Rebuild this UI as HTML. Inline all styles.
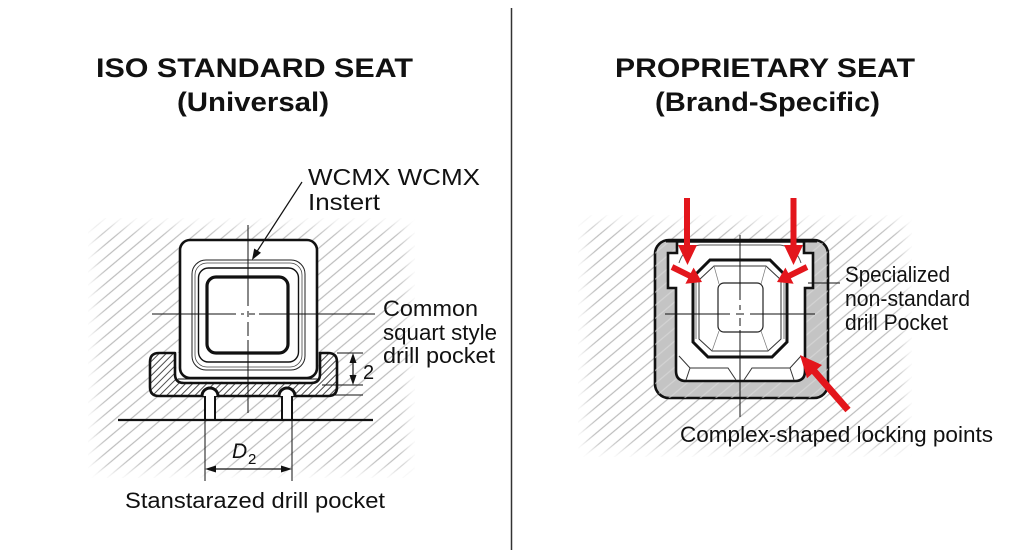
<!DOCTYPE html>
<html><head><meta charset="utf-8"><style>
html,body{margin:0;padding:0;background:#fff;}
svg{display:block;}
text{font-family:"Liberation Sans",Arial,sans-serif;fill:#111;}
</style></head><body>
<svg width="1024" height="559" viewBox="0 0 1024 559" xmlns="http://www.w3.org/2000/svg">
<defs>
  <pattern id="hatch" patternUnits="userSpaceOnUse" width="10" height="10" patternTransform="rotate(-40)">
    <line x1="0" y1="5" x2="10" y2="5" stroke="#bcbcbc" stroke-width="1.2"/>
  </pattern>
  <pattern id="hatchW" patternUnits="userSpaceOnUse" width="10" height="10" patternTransform="rotate(-40)">
    <line x1="0" y1="5" x2="10" y2="5" stroke="#dedede" stroke-width="1.2"/>
  </pattern>
  <pattern id="dense" patternUnits="userSpaceOnUse" width="5" height="5" patternTransform="rotate(-45)">
    <line x1="0" y1="2.5" x2="5" y2="2.5" stroke="#3a3a3a" stroke-width="0.9"/>
  </pattern>
  <filter id="feather" x="-10%" y="-10%" width="120%" height="120%">
    <feGaussianBlur stdDeviation="6"/>
  </filter>
  <mask id="mL" maskUnits="userSpaceOnUse" x="0" y="0" width="1024" height="559">
    <rect x="96" y="226" width="311" height="244" fill="#fff" filter="url(#feather)"/>
  </mask>
  <mask id="mR" maskUnits="userSpaceOnUse" x="0" y="0" width="1024" height="559">
    <rect x="586" y="223" width="318" height="226" fill="#fff" filter="url(#feather)"/>
  </mask>
</defs>
<rect width="1024" height="559" fill="#fff"/>

<!-- divider -->
<line x1="511.5" y1="8" x2="511.5" y2="550" stroke="#333" stroke-width="1.5"/>

<!-- titles -->
<text x="96" y="77" font-size="27" font-weight="bold" textLength="317" lengthAdjust="spacingAndGlyphs">ISO STANDARD SEAT</text>
<text x="177" y="111" font-size="27" font-weight="bold" textLength="152" lengthAdjust="spacingAndGlyphs">(Universal)</text>
<text x="615" y="77" font-size="27" font-weight="bold" textLength="300" lengthAdjust="spacingAndGlyphs">PROPRIETARY SEAT</text>
<text x="655" y="111" font-size="27" font-weight="bold" textLength="225" lengthAdjust="spacingAndGlyphs">(Brand-Specific)</text>

<!-- ============ LEFT FIGURE ============ -->
<rect x="88" y="218" width="327" height="260" fill="url(#hatch)" mask="url(#mL)"/>

<!-- pocket -->
<path d="M159 353 L175 353 L175 374 Q175 383 184 383 L311 383 Q320 383 320 374 L320 353 L328 353 Q337 353 337 362 L337 387 Q337 396 328 396 L159 396 Q150 396 150 387 L150 362 Q150 353 159 353 Z" fill="#fff" stroke="none"/>
<path d="M159 353 L175 353 L175 374 Q175 383 184 383 L311 383 Q320 383 320 374 L320 353 L328 353 Q337 353 337 362 L337 387 Q337 396 328 396 L159 396 Q150 396 150 387 L150 362 Q150 353 159 353 Z" fill="url(#dense)" stroke="#111" stroke-width="2.6" stroke-linejoin="round"/>
<!-- cavity white -->
<path d="M176.5 353 L318.5 353 L318.5 374 Q318.5 381.5 311 381.5 L184 381.5 Q176.5 381.5 176.5 374 Z" fill="#fff"/>
<line x1="178" y1="379" x2="318" y2="379" stroke="#111" stroke-width="1"/>

<!-- pins -->
<rect x="205" y="396" width="10" height="24" fill="#fff"/>
<rect x="282" y="396" width="10" height="24" fill="#fff"/>
<line x1="205" y1="392" x2="205" y2="420" stroke="#111" stroke-width="2"/>
<line x1="215" y1="392" x2="215" y2="420" stroke="#111" stroke-width="2"/>
<line x1="282" y1="392" x2="282" y2="420" stroke="#111" stroke-width="2"/>
<line x1="292" y1="392" x2="292" y2="420" stroke="#111" stroke-width="2"/>
<path d="M202 396 A8 8 0 0 1 218 396" fill="#fff" stroke="#111" stroke-width="3"/>
<path d="M279 396 A8 8 0 0 1 295 396" fill="#fff" stroke="#111" stroke-width="3"/>

<!-- base line -->
<line x1="118" y1="420" x2="373" y2="420" stroke="#111" stroke-width="2.2"/>

<!-- insert -->
<rect x="180" y="240" width="137" height="138" rx="10" fill="#fff" stroke="#111" stroke-width="2.6"/>
<rect x="192" y="260" width="113" height="110" rx="14" fill="none" stroke="#222" stroke-width="1"/>
<rect x="195" y="263" width="107" height="104" rx="12" fill="none" stroke="#444" stroke-width="0.8"/>
<rect x="198.5" y="268" width="100" height="94" rx="10" fill="none" stroke="#111" stroke-width="1.4"/>
<rect x="207" y="277" width="81" height="76" rx="9" fill="#fff" stroke="#111" stroke-width="3.2"/>

<!-- centerlines left -->
<line x1="248" y1="225" x2="248" y2="306" stroke="#111" stroke-width="1"/>
<line x1="248" y1="311" x2="248" y2="317" stroke="#111" stroke-width="1"/>
<line x1="248" y1="322" x2="248" y2="336" stroke="#111" stroke-width="1"/>
<line x1="248" y1="340" x2="248" y2="413" stroke="#111" stroke-width="1"/>
<line x1="152" y1="314" x2="236" y2="314" stroke="#111" stroke-width="1"/>
<line x1="241" y1="314" x2="244" y2="314" stroke="#111" stroke-width="1"/>
<line x1="249" y1="314" x2="255" y2="314" stroke="#111" stroke-width="1"/>
<line x1="259" y1="314" x2="375" y2="314" stroke="#111" stroke-width="1"/>

<!-- leader arrow -->
<line x1="302" y1="182" x2="256" y2="253" stroke="#111" stroke-width="1.2"/>
<polygon points="252,260 254.2,248.5 261,252.8" fill="#111"/>

<!-- dimension 2 -->
<line x1="337" y1="353" x2="363" y2="353" stroke="#111" stroke-width="1"/>
<line x1="322" y1="385" x2="363" y2="385" stroke="#111" stroke-width="1"/>
<line x1="330" y1="395" x2="363" y2="395" stroke="#111" stroke-width="1"/>
<line x1="353" y1="360" x2="353" y2="378" stroke="#111" stroke-width="1.2"/>
<polygon points="353,353 349.5,363 356.5,363" fill="#111"/>
<polygon points="353,385 349.5,375 356.5,375" fill="#111"/>
<text x="363" y="379" font-size="20">2</text>

<!-- dimension D2 -->
<line x1="205" y1="420" x2="205" y2="481" stroke="#111" stroke-width="1"/>
<line x1="292" y1="420" x2="292" y2="481" stroke="#111" stroke-width="1"/>
<line x1="213" y1="469" x2="284" y2="469" stroke="#111" stroke-width="1.2"/>
<polygon points="205,469 216,465.5 216,472.5" fill="#111"/>
<polygon points="292,469 281,465.5 281,472.5" fill="#111"/>
<text x="232" y="458" font-size="21" font-style="italic">D</text>
<text x="248" y="464" font-size="15">2</text>

<!-- left labels -->
<text x="308" y="185" font-size="23" textLength="172" lengthAdjust="spacingAndGlyphs">WCMX WCMX</text>
<text x="308" y="210" font-size="23" textLength="72" lengthAdjust="spacingAndGlyphs">Instert</text>
<text x="383" y="316" font-size="22" textLength="95" lengthAdjust="spacingAndGlyphs">Common</text>
<text x="383" y="340" font-size="22" textLength="114" lengthAdjust="spacingAndGlyphs">squart style</text>
<text x="383" y="363" font-size="22" textLength="112" lengthAdjust="spacingAndGlyphs">drill pocket</text>
<text x="125" y="508" font-size="22" textLength="260" lengthAdjust="spacingAndGlyphs">Stanstarazed drill pocket</text>

<!-- ============ RIGHT FIGURE ============ -->
<rect x="578" y="215" width="334" height="242" fill="url(#hatch)" mask="url(#mR)"/>

<!-- outer gray body -->
<rect x="655" y="240" width="173" height="158" rx="14" fill="#c4c4c4" stroke="#111" stroke-width="2.6"/>
<rect x="655" y="240" width="173" height="158" rx="14" fill="url(#hatchW)" opacity="0.6"/>
<!-- cavity -->
<path d="M677 241.5 L677 253 L668 253 L668 288 L676 288 L676 371 Q676 381 686 381 L795 381 Q805 381 805 371 L805 288 L813 288 L813 253 L804 253 L804 241.5 Z" fill="#fff" stroke="#111" stroke-width="2.6" stroke-linejoin="miter"/>
<line x1="666" y1="241" x2="817" y2="241" stroke="#111" stroke-width="3"/>

<!-- insert thin outline -->
<path d="M679 263 Q684 247 700 245 L780 245 Q796 247 801 263" fill="none" stroke="#555" stroke-width="1"/>
<path d="M679 356 L690 368 L728 368 L736 380" fill="none" stroke="#333" stroke-width="1"/>
<path d="M690 368 L686 380" fill="none" stroke="#333" stroke-width="1"/>
<path d="M801 356 L790 368 L752 368 L744 380" fill="none" stroke="#333" stroke-width="1"/>
<path d="M790 368 L794 380" fill="none" stroke="#333" stroke-width="1"/>

<!-- octagon insert -->
<polygon points="710,260 770,260 787,277 787,342 772,357 708,357 693,342 693,277" fill="#fff" stroke="#111" stroke-width="3"/>
<polygon points="714,266 766,266 781,280 781,339 768,351 712,351 699,339 699,280" fill="none" stroke="#333" stroke-width="1"/>
<line x1="696" y1="282" x2="696" y2="339" stroke="#555" stroke-width="0.8"/>
<line x1="784" y1="282" x2="784" y2="339" stroke="#555" stroke-width="0.8"/>
<line x1="714" y1="266" x2="719" y2="284" stroke="#777" stroke-width="0.7"/>
<line x1="766" y1="266" x2="761" y2="284" stroke="#777" stroke-width="0.7"/>
<line x1="712" y1="351" x2="719" y2="331" stroke="#777" stroke-width="0.7"/>
<line x1="768" y1="351" x2="761" y2="331" stroke="#777" stroke-width="0.7"/>
<rect x="718" y="283" width="45" height="49" rx="6" fill="none" stroke="#222" stroke-width="1.2"/>

<!-- centerlines right -->
<line x1="740" y1="235" x2="740" y2="300" stroke="#111" stroke-width="1"/>
<line x1="740" y1="305" x2="740" y2="310" stroke="#111" stroke-width="1"/>
<line x1="740" y1="318" x2="740" y2="326" stroke="#111" stroke-width="1"/>
<line x1="740" y1="330" x2="740" y2="417" stroke="#111" stroke-width="1"/>
<line x1="665" y1="314" x2="730" y2="314" stroke="#111" stroke-width="1"/>
<line x1="736" y1="314" x2="744" y2="314" stroke="#111" stroke-width="1"/>
<line x1="750" y1="314" x2="815" y2="314" stroke="#111" stroke-width="1"/>

<!-- leader -->
<line x1="808" y1="283" x2="840" y2="283" stroke="#111" stroke-width="1"/>

<!-- red arrows -->
<g fill="#e3161c">
  <polygon points="684,198 690,198 690,245 697,245 687.5,265 678,245 684,245"/>
  <polygon points="790.5,198 796.5,198 796.5,245 803,245 793.5,265 784,245 790.5,245"/>
  <polygon points="673.3,264.3 690.8,273.0 693.6,267.6 702,282 685.4,283.8 688.2,278.4 670.7,269.7"/>
  <polygon points="805.7,264.3 788.2,273.0 785.4,267.6 777,282 793.6,283.8 790.8,278.4 808.3,269.7"/>
  <polygon points="850.6,407.7 817.1,369.3 822.0,365.0 800,355 807.0,378.2 811.9,373.9 845.4,412.3"/>
</g>

<!-- right labels -->
<text x="845" y="282" font-size="22" textLength="105" lengthAdjust="spacingAndGlyphs">Specialized</text>
<text x="845" y="306" font-size="22" textLength="125" lengthAdjust="spacingAndGlyphs">non-standard</text>
<text x="845" y="330" font-size="22" textLength="103" lengthAdjust="spacingAndGlyphs">drill Pocket</text>
<text x="680" y="442" font-size="22" textLength="313" lengthAdjust="spacingAndGlyphs">Complex-shaped locking points</text>
</svg>
</body></html>
